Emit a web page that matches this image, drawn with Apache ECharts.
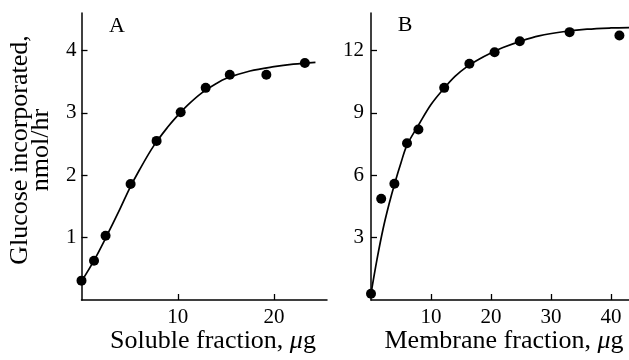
<!DOCTYPE html>
<html>
<head>
<meta charset="utf-8">
<script src="https://cdn.jsdelivr.net/npm/echarts@6/dist/echarts.min.js"></script>
<style>
html,body{margin:0;padding:0;background:#fff;}
#c{width:629px;height:360px;}
</style>
</head>
<body>
<div id="c"></div>
<script>
// Panel A: soluble fraction
const solubleX = [0, 1.3, 2.5, 5.1, 7.8, 10.3, 12.9, 15.4, 19.2, 23.2];
const solubleY = [0.31, 0.63, 1.03, 1.86, 2.55, 3.01, 3.40, 3.61, 3.61, 3.80];
const solubleCurveX = [0, 1.25, 2.5, 4, 5, 6, 7.5, 9, 10, 11, 12.5, 14, 15, 17.5, 20, 22, 24.3];
const solubleCurveY = [0.30, 0.62, 0.99, 1.46, 1.79, 2.08, 2.47, 2.78, 2.96, 3.12, 3.32, 3.47, 3.55, 3.67, 3.74, 3.78, 3.81];
// Panel B: membrane fraction
const membraneX = [0, 1.7, 3.9, 6.0, 7.9, 12.2, 16.4, 20.6, 24.8, 33.1, 41.4];
const membraneY = [0.3, 4.87, 5.59, 7.54, 8.2, 10.2, 11.36, 11.91, 12.44, 12.88, 12.72];
const membraneCurveX = [0, 1, 2, 3, 4, 5, 6, 8, 10, 12, 14, 16, 18, 20, 22, 25, 28, 32, 36, 40, 43];
const membraneCurveY = [0.3, 1.95, 3.4, 4.6, 5.65, 6.6, 7.45, 8.45, 9.4, 10.12, 10.75, 11.22, 11.58, 11.88, 12.14, 12.45, 12.7, 12.9, 13.02, 13.08, 13.1];
// Tick labels
const ticksAx = [10, 20];
const ticksAy = [1, 2, 3, 4];
const ticksBx = [10, 20, 30, 40];
const ticksBy = [3, 6, 9, 12];

const FONT = "'Liberation Serif', 'Times New Roman', serif";
const zip = (a, b) => a.map((v, i) => [v, b[i]]);

function xAxis(idx, max, ticks) {
  return {
    type: 'value', gridIndex: idx, min: 0, max: max,
    axisLine: {show: true, onZero: false, lineStyle: {color: '#000', width: 1.5}},
    axisTick: {show: true, inside: true, length: 6, customValues: ticks, lineStyle: {color: '#000', width: 1.3}},
    axisLabel: {customValues: ticks, color: '#000', fontFamily: FONT, fontSize: 21, margin: 7},
    splitLine: {show: false}
  };
}
function yAxis(idx, max, ticks, margin) {
  return {
    type: 'value', gridIndex: idx, min: 0, max: max,
    axisLine: {show: true, onZero: false, lineStyle: {color: '#000', width: 1.5}},
    axisTick: {show: true, inside: true, length: 6, customValues: ticks, lineStyle: {color: '#000', width: 1.3}},
    axisLabel: {customValues: ticks, color: '#000', fontFamily: FONT, fontSize: 21, margin: margin},
    splitLine: {show: false}
  };
}

const chart = echarts.init(document.getElementById('c'), null, {renderer: 'canvas'});
chart.setOption({
  backgroundColor: '#fff',
  animation: false,
  grid: [
    {left: 81.5, right: 302, top: 13, bottom: 60},
    {left: 371, right: 0, top: 13, bottom: 60}
  ],
  xAxis: [xAxis(0, 25.5, ticksAx), xAxis(1, 43, ticksBx)],
  yAxis: [yAxis(0, 4.6, ticksAy, 5), yAxis(1, 13.8, ticksBy, 7)],
  series: [
    {type: 'line', xAxisIndex: 0, yAxisIndex: 0, data: zip(solubleCurveX, solubleCurveY),
     smooth: 0.35, showSymbol: false, lineStyle: {color: '#000', width: 1.7}, clip: false},
    {type: 'scatter', xAxisIndex: 0, yAxisIndex: 0, data: zip(solubleX, solubleY),
     symbolSize: 10, itemStyle: {color: '#000', opacity: 1}, clip: false},
    {type: 'line', xAxisIndex: 1, yAxisIndex: 1, data: zip(membraneCurveX, membraneCurveY),
     smooth: 0.35, showSymbol: false, lineStyle: {color: '#000', width: 1.7}, clip: false},
    {type: 'scatter', xAxisIndex: 1, yAxisIndex: 1, data: zip(membraneX, membraneY),
     symbolSize: 10, itemStyle: {color: '#000', opacity: 1}, clip: false}
  ],
  graphic: [
    {type: 'text', x: 117, y: 26, style: {text: 'A', font: '22px ' + FONT, fill: '#000', align: 'center', verticalAlign: 'middle'}},
    {type: 'text', x: 405, y: 25, style: {text: 'B', font: '22px ' + FONT, fill: '#000', align: 'center', verticalAlign: 'middle'}},
    {type: 'text', x: 213, y: 341, style: {
      text: 'Soluble fraction, {i|μ}g', font: '26px ' + FONT, fill: '#000', align: 'center', verticalAlign: 'middle',
      rich: {i: {fontStyle: 'italic', fontFamily: FONT, fontSize: 26, fill: '#000'}}}},
    {type: 'text', x: 504, y: 341, style: {
      text: 'Membrane fraction, {i|μ}g', font: '26px ' + FONT, fill: '#000', align: 'center', verticalAlign: 'middle',
      rich: {i: {fontStyle: 'italic', fontFamily: FONT, fontSize: 26, fill: '#000'}}}},
    {type: 'text', x: 31, y: 150, rotation: Math.PI / 2, style: {
      text: 'Glucose incorporated,\nnmol/hr', font: '26px ' + FONT, fill: '#000', align: 'center', verticalAlign: 'middle', lineHeight: 21}}
  ]
});
</script>
</body>
</html>
